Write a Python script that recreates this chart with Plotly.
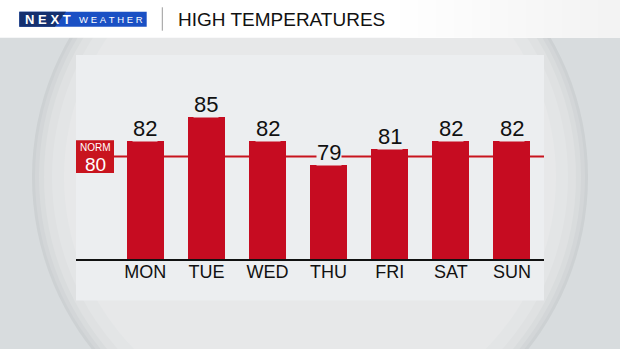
import plotly.graph_objects as go

DAYS = ["MON", "TUE", "WED", "THU", "FRI", "SAT", "SUN"]
HIGHS = [82, 85, 82, 79, 81, 82, 82]
NORM = 80
TITLE = "HIGH TEMPERATURES"

W, H = 620, 349
ML, MR, MT, MB = 76, 76, 55, 90
PW, PH = W - ML - MR, H - MT - MB


def px(X):
    return (X - ML) / PW


def py(Y):
    return (H - MB - Y) / PH


FONT = "Arial, Liberation Sans, sans-serif"
RED = "#c60c21"
PANEL = "#eceef0"

fig = go.Figure()
fig.add_trace(go.Bar(
    x=DAYS, y=HIGHS, width=0.606,
    marker=dict(color=RED, line=dict(width=0)),
    hoverinfo="skip",
))

shapes = []
# background circle (sphere), concentric shading
CX, CY, R = 310, 177, 278
for dr, c in [(0, "#cdd1d3"), (3, "#d3d6d8"), (7, "#d9dcdd"), (12, "#dfe1e2"),
              (20, "#e3e5e6"), (32, "#e7e8e9")]:
    r = R - dr
    shapes.append(dict(type="circle", xref="paper", yref="paper", layer="below",
                       x0=px(CX - r), x1=px(CX + r), y0=py(CY + r), y1=py(CY - r),
                       fillcolor=c, line=dict(width=0)))
# header with soft gradient toward the right
shapes.append(dict(type="rect", xref="paper", yref="paper", layer="below",
                   x0=px(0), x1=px(620), y0=py(37.7), y1=py(0),
                   fillcolor="#ffffff", line=dict(width=0)))
for i in range(12):
    x0 = 400 + i * 18
    g = 254 - i
    shapes.append(dict(type="rect", xref="paper", yref="paper", layer="below",
                       x0=px(x0), x1=px(620), y0=py(37.7), y1=py(0),
                       fillcolor=f"rgb({g},{g},{g})", line=dict(width=0)))
# logo box: dark navy on the left, brighter blue on the right
shapes.append(dict(type="rect", xref="paper", yref="paper", layer="below",
                   x0=px(19.3), x1=px(146.7), y0=py(26.7), y1=py(11.7),
                   fillcolor="#1a50c4", line=dict(width=0)))
shapes.append(dict(type="path", xref="paper", yref="paper", layer="below",
                   path=(f"M {px(19.3)},{py(26.7)} L {px(19.3)},{py(11.7)} "
                         f"L {px(66)},{py(11.7)} L {px(55)},{py(26.7)} Z"),
                   fillcolor="#15306f", line=dict(width=0)))
# separator
shapes.append(dict(type="line", xref="paper", yref="paper", layer="below",
                   x0=px(162.3), x1=px(162.3), y0=py(30.7), y1=py(7.3),
                   line=dict(color="#9a9a9a", width=1)))
# panel
shapes.append(dict(type="rect", xref="paper", yref="paper", layer="below",
                   x0=0, x1=1, y0=py(300.5), y1=1,
                   fillcolor=PANEL, line=dict(width=0)))
# norm line
shapes.append(dict(type="line", xref="paper", yref="y", layer="below",
                   x0=px(114), x1=1, y0=NORM, y1=NORM,
                   line=dict(color="#c8141e", width=2)))
# norm box
shapes.append(dict(type="rect", xref="paper", yref="y", layer="above",
                   x0=0, x1=px(114), y0=NORM - 2.04, y1=NORM + 2.04,
                   fillcolor="#c8141e", line=dict(width=0)))

annotations = []
for d, v in zip(DAYS, HIGHS):
    annotations.append(dict(x=d, y=v, xref="x", yref="y", text=str(v),
                            showarrow=False, yanchor="bottom", xanchor="center",
                            yshift=-1,
                            font=dict(family=FONT, size=22, color="#111111"),
                            bgcolor=PANEL, borderpad=0))
annotations.append(dict(x=px(95), y=NORM + 1.15, xref="paper", yref="y",
                        text="NORM", showarrow=False,
                        xanchor="center", yanchor="middle",
                        font=dict(family=FONT, size=10, color="white")))
annotations.append(dict(x=px(95), y=NORM - 0.95, xref="paper", yref="y",
                        text=str(NORM), showarrow=False,
                        xanchor="center", yanchor="middle",
                        font=dict(family=FONT, size=19, color="white")))
annotations.append(dict(x=px(176), y=py(19.5), xref="paper", yref="paper",
                        text=TITLE, showarrow=False,
                        xanchor="left", yanchor="middle",
                        font=dict(family=FONT, size=19, color="#111111")))
SP = "\u2009\u200a"
annotations.append(dict(x=px(22.5), y=py(19.5), xref="paper", yref="paper",
                        text="<b>" + SP.join("NEXT") + "</b>", showarrow=False,
                        xanchor="left", yanchor="middle",
                        font=dict(family=FONT, size=13, color="white")))
annotations.append(dict(x=px(76.5), y=py(19.5), xref="paper", yref="paper",
                        text=SP.join("WEATHER"),
                        showarrow=False, xanchor="left", yanchor="middle",
                        font=dict(family=FONT, size=9.5, color="white")))

fig.update_layout(
    width=W, height=H,
    margin=dict(l=ML, r=MR, t=MT, b=MB, pad=0),
    paper_bgcolor="#d8dcde", plot_bgcolor="rgba(0,0,0,0)",
    showlegend=False,
    shapes=shapes, annotations=annotations,
    bargap=0,
    xaxis=dict(type="category", categoryorder="array", categoryarray=DAYS,
               range=[-1.134, 6.525], showgrid=False, zeroline=False,
               showline=True, linecolor="#111111", linewidth=2,
               ticks="", ticklabelstandoff=-5,
               tickfont=dict(family=FONT, size=18, color="#111111"),
               fixedrange=True),
    yaxis=dict(range=[67.2, 92.7], visible=False, fixedrange=True),
)

fig.write_html("out.html", config={"displayModeBar": False})
